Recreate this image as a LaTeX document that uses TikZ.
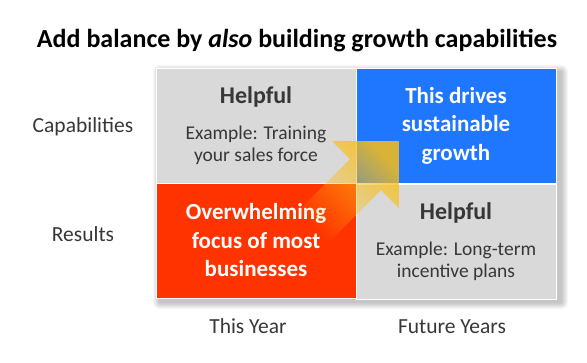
\documentclass[tikz,border=0pt]{standalone}
\usepackage{fontspec}
\setmainfont{Carlito}
\usetikzlibrary{positioning,fadings}
\definecolor{QuadGrey}{RGB}{217,217,217}
\definecolor{QuadBlue}{RGB}{31,119,255}
\definecolor{QuadRed}{RGB}{255,51,0}
\definecolor{InkGrey}{RGB}{55,55,55}
\definecolor{ArrowGold}{RGB}{250,190,20}
\tikzfading[name=tailfade,left color=transparent!100,middle color=transparent!35,right color=transparent!15]
\newcommand{\quadhead}{\bfseries\fontsize{24}{28}\selectfont}
\newcommand{\quadbody}{\mdseries\fontsize{19.5}{22}\selectfont}
\tikzset{
    quad/.style={rectangle,draw=white,line width=0.6pt,minimum width=200pt,minimum height=115pt,inner sep=0pt,align=center},
    greyquad/.style={quad,fill=QuadGrey,text=InkGrey,font=\quadbody},
    hotquad/.style={quad,text=white,font=\bfseries\fontsize{23}{28.5}\selectfont},
    axislabel/.style={text=InkGrey,font=\fontsize{21.5}{24}\selectfont,inner sep=0pt,anchor=base},
    headline/.style={font=\bfseries\fontsize{26}{30}\selectfont,inner sep=0pt,anchor=base}
}

\begin{document}
\begin{tikzpicture}[x=1pt,y=-1pt]
		\useasboundingbox (0,0) rectangle (587,362);
		% title
		\node[headline] (title) at (297,47) {Add balance by \textit{also} building growth capabilities};
		% soft shadow under the grid
		\foreach \s in {1,...,7}
			\fill[black,opacity=0.035,rounded corners=\s pt] (160-\s,72-\s) rectangle (561+\s,302+\s);
		% quadrants
		\node[greyquad] (tl) at (256,125.5) {{\quadhead Helpful}\\[14pt]Example: Training\\your sales force};
		\node[hotquad,fill=QuadBlue] (tr) at (456,125.5) {This drives\\sustainable\\growth};
		\node[hotquad,fill=QuadRed] (bl) at (256,240.5) {Overwhelming\\focus of most\\businesses};
		\node[greyquad] (br) at (456,242) {{\quadhead Helpful}\\[14pt]Example: Long-term\\incentive plans};
		% growth arrow
		\fill[ArrowGold,path fading=tailfade,fading angle=45]
			(399,141) -- (332,141) -- (350,159) -- (297,212) -- (328,243) -- (381,190) -- (399,208) -- cycle;
		% axis labels
		\node[axislabel] (caplabel) at (83,132) {Capabilities};
		\node[axislabel] (reslabel) at (83,241.5) {Results};
		\node[axislabel] (nowlabel) at (248,333) {This Year};
		\node[axislabel] (futlabel) at (452,333) {Future Years};
\end{tikzpicture}
\end{document}
